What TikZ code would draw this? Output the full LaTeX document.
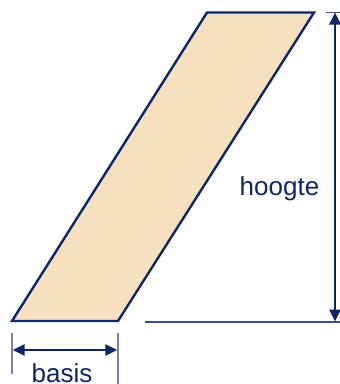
\documentclass[tikz,border=0pt]{standalone}
\usepackage{fontspec}
\setmainfont{Liberation Sans}
\usetikzlibrary{arrows.meta}
\definecolor{navy}{RGB}{14,38,100}
\definecolor{peach}{RGB}{247,224,192}
\definecolor{tickc}{RGB}{120,130,165}
\tikzset{
  para/.style={draw=navy, fill=peach, line width=2.4pt, line join=miter},
  dimline/.style={draw=navy, line width=2.6pt, {Triangle[length=12pt,width=11pt]}-{Triangle[length=12pt,width=11pt]}},
  guide/.style={draw=navy!80!white, line width=1.5pt},
  tickline/.style={draw=tickc, line width=1.2pt},
  lbl/.style={text=navy, font=\fontsize{26}{30}\selectfont, inner sep=0pt, anchor=base}
}
\begin{document}
\begin{tikzpicture}[x=1pt,y=-1pt]
\useasboundingbox (0,0) rectangle (340,384);
\coordinate (A) at (12,321);
\coordinate (B) at (118,321);
\coordinate (C) at (314,12.5);
\coordinate (D) at (207,12.5);
\path[para] (A) -- (B) -- (C) -- (D) -- cycle;
% height
\coordinate (ht) at (335,12.5);
\coordinate (hb) at (335,321.5);
\coordinate (tl) at (326,12.5);
\coordinate (tr) at (341,12.5);
\coordinate (bl) at (145,322);
\coordinate (br) at (341,322);
\draw[guide] (tl) -- (tr);
\draw[guide] (bl) -- (br);
\draw[dimline] (ht) -- (hb);
\node[lbl] (hoogte) at (279.5,195) {hoogte};
% basis
\coordinate (l1) at (12,333);
\coordinate (l2) at (12,374);
\coordinate (r1) at (118,333);
\coordinate (r2) at (118,384);
\draw[tickline] (l1) -- (l2);
\draw[tickline] (r1) -- (r2);
\coordinate (bs) at (12.6,350);
\coordinate (be) at (117.4,350);
\draw[dimline] (bs) -- (be);
\node[lbl] (basis) at (62,382) {basis};
\end{tikzpicture}
\end{document}
